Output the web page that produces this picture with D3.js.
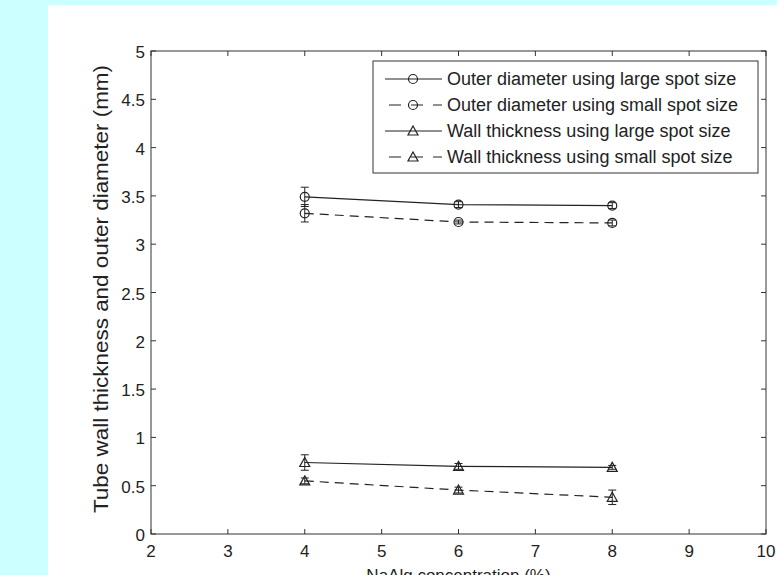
<!DOCTYPE html>
<html>
<head>
<meta charset="utf-8">
<script src="https://cdn.jsdelivr.net/npm/d3@7"></script>
<style>
  body { margin: 0; background: #ccffff; overflow: hidden; }
  svg { display: block; }
  text { font-family: "Liberation Sans", Arial, sans-serif; fill: #222; }
</style>
</head>
<body>
<script>
// Data
let concentrations = [4, 6, 8];
let seriesNames = [
  "Outer diameter using large spot size",
  "Outer diameter using small spot size",
  "Wall thickness using large spot size",
  "Wall thickness using small spot size"
];
let outerLarge = [3.49, 3.41, 3.40];
let outerLargeErr = [0.10, 0.03, 0.03];
let outerSmall = [3.32, 3.23, 3.22];
let outerSmallErr = [0.09, 0.02, 0.03];
let wallLarge = [0.74, 0.70, 0.69];
let wallLargeErr = [0.08, 0.03, 0.02];
let wallSmall = [0.55, 0.455, 0.38];
let wallSmallErr = [0.03, 0.03, 0.075];
let xTicks = [2, 3, 4, 5, 6, 7, 8, 9, 10];
let yTicks = [0, 0.5, 1, 1.5, 2, 2.5, 3, 3.5, 4, 4.5, 5];

let width = 777;
let height = 575;
let plotLeft = 151, plotRight = 766, plotTop = 51, plotBottom = 534;

let svg = d3.select("body").append("svg")
  .attr("width", width)
  .attr("height", height);

// white figure panel
svg.append("rect")
  .attr("x", 48).attr("y", 5)
  .attr("width", width - 48).attr("height", height - 5)
  .attr("fill", "#fff");

let xScale = d3.scaleLinear().domain([2, 10]).range([plotLeft, plotRight]);
let yScale = d3.scaleLinear().domain([0, 5]).range([plotBottom, plotTop]);

let g = svg.append("g");

// ticks inside on all four sides
let tickLen = 5;
let axisColor = "#333";
g.selectAll(".xt-b").data(xTicks).enter().append("line")
  .attr("x1", d => xScale(d)).attr("x2", d => xScale(d))
  .attr("y1", plotBottom).attr("y2", plotBottom - tickLen)
  .attr("stroke", axisColor);
g.selectAll(".xt-t").data(xTicks).enter().append("line")
  .attr("x1", d => xScale(d)).attr("x2", d => xScale(d))
  .attr("y1", plotTop).attr("y2", plotTop + tickLen)
  .attr("stroke", axisColor);
g.selectAll(".yt-l").data(yTicks).enter().append("line")
  .attr("x1", plotLeft).attr("x2", plotLeft + tickLen)
  .attr("y1", d => yScale(d)).attr("y2", d => yScale(d))
  .attr("stroke", axisColor);
g.selectAll(".yt-r").data(yTicks).enter().append("line")
  .attr("x1", plotRight).attr("x2", plotRight - tickLen)
  .attr("y1", d => yScale(d)).attr("y2", d => yScale(d))
  .attr("stroke", axisColor);

// tick labels
g.selectAll(".xl").data(xTicks).enter().append("text")
  .attr("x", d => xScale(d))
  .attr("y", plotBottom + 23)
  .attr("text-anchor", "middle")
  .style("font-size", "17px")
  .text(d => d);
g.selectAll(".yl").data(yTicks).enter().append("text")
  .attr("x", plotLeft - 6)
  .attr("y", d => yScale(d) + 7)
  .attr("text-anchor", "end")
  .style("font-size", "17px")
  .text(d => d);

// axis box
g.append("rect")
  .attr("x", plotLeft).attr("y", plotTop)
  .attr("width", plotRight - plotLeft).attr("height", plotBottom - plotTop)
  .attr("fill", "none")
  .attr("stroke", axisColor);

// axis titles
g.append("text")
  .attr("transform", "translate(108,289) rotate(-90)")
  .attr("text-anchor", "middle")
  .attr("textLength", 448)
  .attr("lengthAdjust", "spacingAndGlyphs")
  .style("font-size", "21px")
  .text("Tube wall thickness and outer diameter (mm)");
g.append("text")
  .attr("x", (plotLeft + plotRight) / 2)
  .attr("y", 581)
  .attr("text-anchor", "middle")
  .style("font-size", "17px")
  .text("NaAlg concentration (%)");

let series = [
  { name: seriesNames[0], values: outerLarge, err: outerLargeErr, dash: null, marker: "circle" },
  { name: seriesNames[1], values: outerSmall, err: outerSmallErr, dash: "9,6", marker: "circle" },
  { name: seriesNames[2], values: wallLarge, err: wallLargeErr, dash: null, marker: "triangle" },
  { name: seriesNames[3], values: wallSmall, err: wallSmallErr, dash: "9,6", marker: "triangle" }
];

let lineColor = "#222";
let line = d3.line().x(d => xScale(d.x)).y(d => yScale(d.y));

function drawMarker(sel, type, cx, cy) {
  if (type === "circle") {
    sel.append("circle")
      .attr("cx", cx).attr("cy", cy).attr("r", 4.5)
      .attr("fill", "none").attr("stroke", lineColor).attr("stroke-width", 1.2);
  } else {
    let s = 5;
    sel.append("path")
      .attr("d", "M" + cx + "," + (cy - s) + "L" + (cx + s) + "," + (cy + s * 0.8) +
        "L" + (cx - s) + "," + (cy + s * 0.8) + "Z")
      .attr("fill", "none").attr("stroke", lineColor).attr("stroke-width", 1.2);
  }
}

series.forEach(s => {
  let pts = concentrations.map((c, i) => ({ x: c, y: s.values[i], e: s.err[i] }));
  let sg = g.append("g");
  sg.append("path")
    .datum(pts)
    .attr("d", line)
    .attr("fill", "none")
    .attr("stroke", lineColor)
    .attr("stroke-width", 1.2)
    .attr("stroke-dasharray", s.dash);
  pts.forEach(p => {
    let cx = xScale(p.x);
    let y1 = yScale(p.y + p.e), y2 = yScale(p.y - p.e);
    sg.append("line").attr("x1", cx).attr("x2", cx).attr("y1", y1).attr("y2", y2)
      .attr("stroke", lineColor);
    [y1, y2].forEach(yy => {
      sg.append("line").attr("x1", cx - 4).attr("x2", cx + 4).attr("y1", yy).attr("y2", yy)
        .attr("stroke", lineColor);
    });
    drawMarker(sg, s.marker, cx, yScale(p.y));
  });
});

// legend
let legend = svg.append("g").attr("id", "legend");
legend.append("rect")
  .attr("x", 373).attr("y", 61)
  .attr("width", 385).attr("height", 112)
  .attr("fill", "#fff")
  .attr("stroke", axisColor);

series.forEach((s, i) => {
  let ly = 79 + i * 26;
  legend.append("line")
    .attr("x1", 385).attr("x2", 442)
    .attr("y1", ly).attr("y2", ly)
    .attr("stroke", lineColor)
    .attr("stroke-width", 1.2)
    .attr("stroke-dasharray", s.dash ? "12,10" : null)
    .attr("stroke-dashoffset", s.dash ? -4 : null);
  drawMarker(legend, s.marker, 413, ly);
  legend.append("text")
    .attr("x", 447)
    .attr("y", ly + 6)
    .style("font-size", "18px")
    .text(s.name);
});
</script>
</body>
</html>
